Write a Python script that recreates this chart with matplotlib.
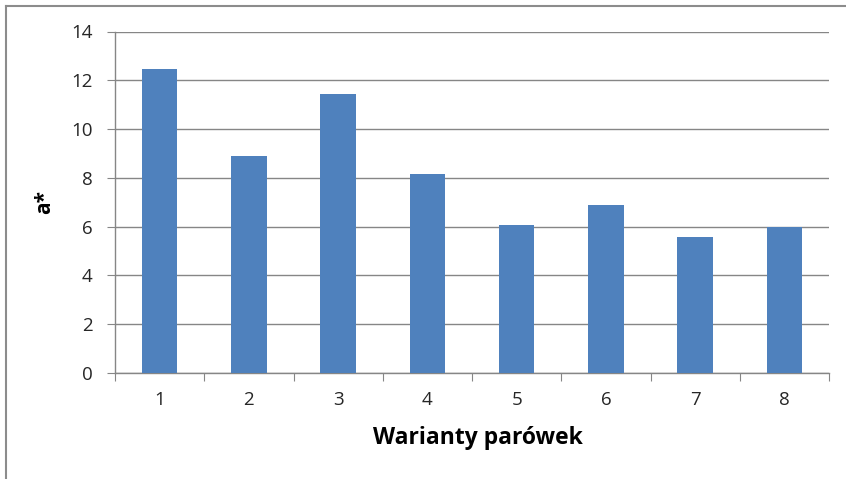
import matplotlib
matplotlib.use("Agg")
import matplotlib.pyplot as plt
from matplotlib.lines import Line2D
import numpy as np

categories = ["1", "2", "3", "4", "5", "6", "7", "8"]
values = [12.45, 8.9, 11.45, 8.15, 6.05, 6.87, 5.58, 5.98]
y_ticks = [0, 2, 4, 6, 8, 10, 12, 14]

plt.rcParams['font.family'] = ['Open Sans', 'DejaVu Sans']

W, H = 846, 479
fig = plt.figure(figsize=(W / 100, H / 100), dpi=100)
ax = fig.add_axes([115 / W, 1 - 373 / H, (829 - 115) / W, (373 - 31.5) / H])

x = np.arange(len(categories))
ax.bar(x, values, width=0.4, color="#4F81BD", zorder=3)

axis_grey = "#868686"
ax.set_ylim(0, 14)
ax.set_xlim(-0.5, len(categories) - 0.5)
ax.set_yticks(y_ticks)
ax.set_yticklabels([str(t) for t in y_ticks])
ax.yaxis.grid(True, color=axis_grey, linewidth=1.0, zorder=0)

# category boundaries carry the tick marks, labels sit at bar centres
ax.set_xticks(np.arange(-0.5, len(categories), 1.0))
ax.set_xticklabels([])
ax.set_xticks(x, minor=True)
ax.set_xticklabels(categories, minor=True)
ax.tick_params(axis="x", which="major", length=6, color=axis_grey, direction="out")
ax.tick_params(axis="x", which="minor", length=0, pad=13, labelsize=13.5, labelcolor="#262626")
ax.tick_params(axis="y", length=6, color=axis_grey, direction="out", pad=10,
               labelsize=13.5, labelcolor="#262626")

for side in ["top", "right"]:
    ax.spines[side].set_visible(False)
for side in ["left", "bottom"]:
    ax.spines[side].set_color(axis_grey)
    ax.spines[side].set_linewidth(1.0)

ax.set_xlabel("Warianty parówek", fontsize=16.5, fontweight="bold")
ax.xaxis.set_label_coords((478 - 115) / 714, (373 - 438) / 341.5)
ax.xaxis.label.set_va("center")
ax.set_ylabel("a*", fontsize=15, fontweight="bold")
ax.yaxis.set_label_coords((45 - 115) / 714, 0.5)
ax.yaxis.label.set_va("center")

# outer frame of the chart area
fig.add_artist(Line2D([5.5 / W, 5.5 / W], [0, 1 - 6 / H], transform=fig.transFigure,
                      color="#8c8c8c", linewidth=1.5))
fig.add_artist(Line2D([5.5 / W, 1], [1 - 6 / H, 1 - 6 / H], transform=fig.transFigure,
                      color="#8c8c8c", linewidth=1.5))

fig.savefig("out.png", dpi=100)
